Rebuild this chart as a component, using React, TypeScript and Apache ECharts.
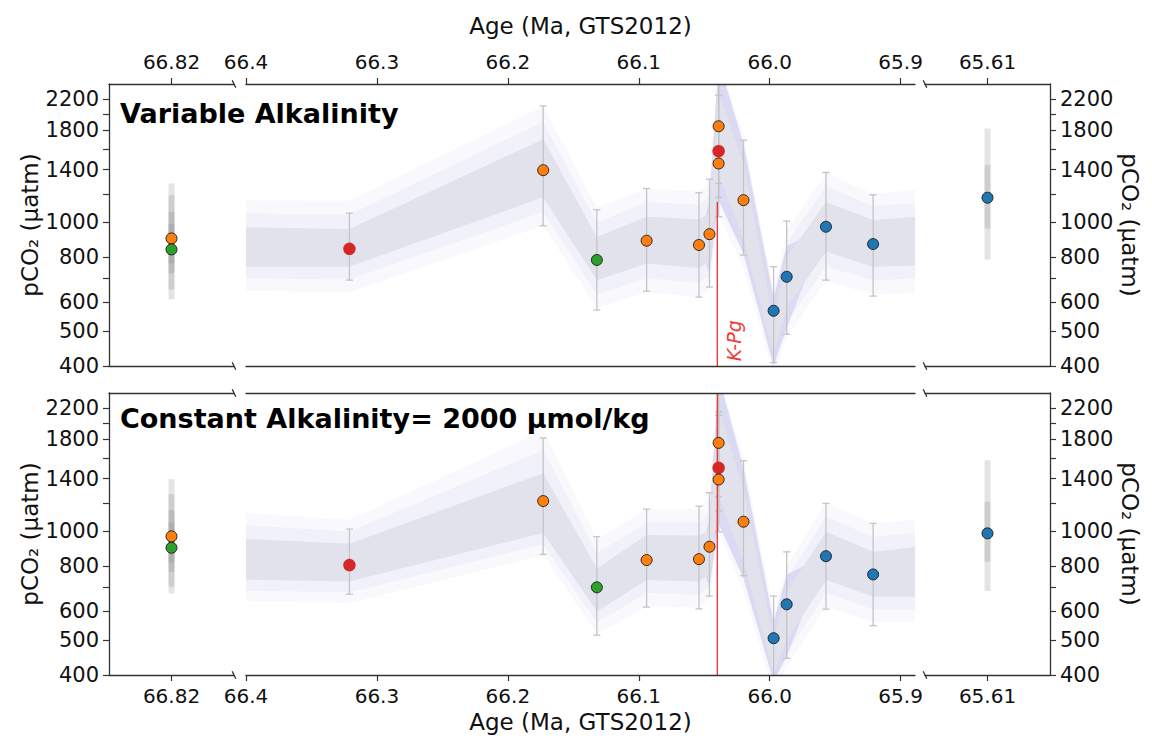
import React, { useEffect, useRef } from "react";
import * as echarts from "echarts";

// ---------------- data ----------------
const siteColors: Record<string, string> = {
  orange: "#ff7f0e",
  green: "#2ca02c",
  blue: "#1f77b4",
  red: "#d62728",
};

const yTickValues = [400, 500, 600, 700, 800, 1000, 1200, 1400, 1600, 1800, 2000, 2200];
const yLabelValues = [400, 500, 600, 800, 1000, 1400, 1800, 2200];
const yAxisMin = 400;
const yAxisMax = 2420;

const midTickValues = [66.4, 66.3, 66.2, 66.1, 66.0, 65.9];
const midRange = [65.889, 66.4];
const leftAge = 66.82;
const leftRange = [66.72, 66.92];
const rightAge = 65.61;
const rightRange = [65.51, 65.71];
const kpgAge = 66.04;
const kpgLabelAt = 470;

const panelTitles = ["Variable Alkalinity", "Constant Alkalinity= 2000 µmol/kg"];
const xAxisTitle = "Age (Ma, GTS2012)";
const yAxisTitle = "pCO₂ (µatm)";

// middle column samples
const midAges = [66.321, 66.173, 66.132, 66.094, 66.054, 66.046, 66.039, 66.039, 66.039, 66.02, 65.997, 65.987, 65.957, 65.921];
const midSites = ["red", "orange", "green", "orange", "orange", "orange", "orange", "red", "orange", "orange", "blue", "blue", "blue", "blue"];

const varValues = [845, 1396, 787, 890, 866, 928, 1848, 1576, 1457, 1153, 569, 707, 973, 871];
const varLow = [692, 979, 572, 645, 621, 662, 1283, 1173, 1037, 812, 409, 490, 692, 625];
const varHigh = [1061, 2104, 1084, 1242, 1208, 1318, 2700, 2252, 2500, 1691, 754, 1009, 1376, 1193];

const conValues = [807, 1214, 700, 833, 838, 907, 1760, 1501, 1393, 1064, 506, 628, 854, 760];
const conLow = [670, 864, 516, 617, 610, 662, 1248, 1139, 998, 754, 380, 445, 609, 548];
const conHigh = [1015, 1816, 967, 1153, 1175, 1280, 2500, 2146, 2100, 1570, 662, 878, 1196, 1053];

// side columns
const leftSites = ["orange", "green"];
const varLeftValues = [903, 842];
const varLeft2Low = [652, 612];
const varLeft2High = [1283, 1191];
const varLeft1Low = [770, 722];
const varLeft1High = [1070, 990];
const conLeftValues = [969, 901];
const conLeft2Low = [703, 673];
const conLeft2High = [1396, 1269];
const conLeft1Low = [820, 773];
const conLeft1High = [1146, 1060];

const rightSites = ["blue"];
const varRightValues = [1171];
const varRight2Low = [790];
const varRight2High = [1821];
const varRight1Low = [962];
const varRight1High = [1442];
const conRightValues = [988];
const conRight2Low = [684];
const conRight2High = [1576];
const conRight1Low = [824];
const conRight1High = [1208];

// ensemble envelopes (middle column)
const bandAges = [66.4, 66.321, 66.173, 66.132, 66.094, 66.054, 66.046, 66.039, 66.02, 65.997, 65.987, 65.957, 65.921, 65.889];

const varFaintLow = [647, 640, 980, 580, 640, 620, 650, 1050, 750, 380, 480, 690, 630, 640];
const varFaintHigh = [1150, 1148, 2100, 1100, 1240, 1220, 1300, 2800, 1750, 640, 950, 1370, 1200, 1230];
const varOuterLow = [700, 695, 1070, 630, 700, 680, 710, 1200, 820, 400, 530, 755, 690, 700];
const varOuterHigh = [1060, 1050, 1900, 1000, 1140, 1120, 1180, 2600, 1600, 590, 880, 1260, 1110, 1130];
const varCoreLow = [860, 850, 1410, 795, 890, 870, 720, 1150, 820, 400, 510, 970, 875, 885];
const varCoreHigh = [860, 850, 1410, 795, 890, 870, 1150, 2800, 1650, 620, 860, 970, 875, 885];
const varInnerLow = [754, 754, 1174, 692, 770, 746, 780, 1350, 900, 433, 580, 829, 754, 760];
const varInnerHigh = [969, 959, 1702, 912, 1037, 1020, 1060, 2300, 1450, 536, 800, 1139, 1015, 1037];

const conFaintLow = [640, 633, 860, 520, 620, 615, 650, 1000, 680, 360, 420, 620, 560, 560];
const conFaintHigh = [1124, 1077, 1900, 950, 1150, 1150, 1250, 2700, 1600, 600, 800, 1200, 1050, 1080];
const conOuterLow = [685, 678, 920, 560, 675, 668, 700, 1120, 750, 380, 460, 675, 608, 608];
const conOuterHigh = [1040, 1000, 1680, 870, 1060, 1060, 1120, 2500, 1450, 550, 740, 1100, 965, 990];
const conCoreLow = [840, 820, 1200, 690, 850, 845, 700, 1050, 740, 385, 450, 860, 765, 780];
const conCoreHigh = [840, 820, 1200, 690, 850, 845, 1080, 2700, 1500, 560, 760, 860, 765, 780];
const conInnerLow = [735, 727, 990, 600, 733, 726, 760, 1250, 830, 405, 500, 733, 659, 659];
const conInnerHigh = [953, 924, 1451, 790, 977, 974, 1010, 2200, 1300, 500, 680, 998, 878, 906];

const kpgTopValues = [1140, 2420];

// ---------------- styling / layout ----------------
const FONT = "DejaVu Sans";
const AXIS_COLOR = "#333333";
const ERR_COLOR = "#c4c4c4";
const SIDE_BAR_COLOR = "rgba(120,120,120,0.2)";
const KPG_COLOR = "#f03a3a";
const FAINT_COLOR = "#f8f8fd";
const OUTER_COLOR = "#f1f1fa";
const CORE_COLOR = "#dadaf3";
const INNER_COLOR = "#e2e2ed";

const ROW_TOPS = [84, 393];
const ROW_HEIGHT = 282;
const COL_LEFTS = [109, 246, 925];
const COL_WIDTHS = [125, 669, 125];

const L = (v: number) => Math.log10(v);
const Y_MIN = L(yAxisMin);
const Y_MAX = L(yAxisMax);

function intersectY(a: number[], b: number[], y: number) {
  const t = (y - a[1]) / (b[1] - a[1]);
  return [a[0] + t * (b[0] - a[0]), y];
}

function clipY(pts: number[][], bound: number, keepAbove: boolean) {
  const inside = (p: number[]) => (keepAbove ? p[1] >= bound : p[1] <= bound);
  const out: number[][] = [];
  for (let i = 0; i < pts.length; i++) {
    const cur = pts[i];
    const prev = pts[(i + pts.length - 1) % pts.length];
    const ci = inside(cur);
    const pi = inside(prev);
    if (ci) {
      if (!pi) out.push(intersectY(prev, cur, bound));
      out.push(cur);
    } else if (pi) {
      out.push(intersectY(prev, cur, bound));
    }
  }
  return out;
}

function bandSeries(gi: number, lo: number[], hi: number[], color: string, z: number) {
  return {
    type: "custom",
    xAxisIndex: gi * 2,
    yAxisIndex: gi,
    z,
    silent: true,
    data: [[bandAges[0], L(lo[0])]],
    encode: { x: 0, y: 1 },
    renderItem: (params: any, api: any) => {
      if (params.dataIndex !== 0) return null;
      const poly: number[][] = [];
      bandAges.forEach((a, i) => poly.push([a, L(hi[i])]));
      for (let i = bandAges.length - 1; i >= 0; i--) poly.push([bandAges[i], L(lo[i])]);
      const clipped = clipY(clipY(poly, Y_MIN, true), Y_MAX, false);
      if (clipped.length < 3) return null;
      return {
        type: "polygon",
        shape: { points: clipped.map((p) => api.coord(p)) },
        style: { fill: color, stroke: null },
      };
    },
  };
}

function errorSeries(gi: number, ages: number[], lo: number[], hi: number[]) {
  return {
    type: "custom",
    xAxisIndex: gi * 2,
    yAxisIndex: gi,
    z: 4,
    silent: true,
    data: ages.map((a, i) => [a, L(lo[i]), L(hi[i])]),
    encode: { x: 0, y: [1, 2] },
    renderItem: (params: any, api: any) => {
      const x = api.value(0);
      const lo = api.value(1);
      const hi = api.value(2);
      const a = api.coord([x, Math.max(lo, Y_MIN)]);
      const b = api.coord([x, Math.min(hi, Y_MAX)]);
      const st = { stroke: ERR_COLOR, lineWidth: 1.3 };
      const children: any[] = [
        { type: "line", shape: { x1: a[0], y1: a[1], x2: b[0], y2: b[1] }, style: st },
      ];
      if (lo >= Y_MIN)
        children.push({ type: "line", shape: { x1: a[0] - 3.5, y1: a[1], x2: a[0] + 3.5, y2: a[1] }, style: st });
      if (hi <= Y_MAX)
        children.push({ type: "line", shape: { x1: b[0] - 3.5, y1: b[1], x2: b[0] + 3.5, y2: b[1] }, style: st });
      return { type: "group", children };
    },
  };
}

function sideBarSeries(gi: number, age: number, lows: number[][], highs: number[][]) {
  const data: number[][] = [];
  lows.forEach((lo, k) => lo.forEach((v, i) => data.push([age, L(v), L(highs[k][i])])));
  return {
    type: "custom",
    xAxisIndex: gi * 2,
    yAxisIndex: gi,
    z: 4,
    silent: true,
    data,
    encode: { x: 0, y: [1, 2] },
    renderItem: (params: any, api: any) => {
      const x = api.value(0);
      const a = api.coord([x, api.value(1)]);
      const b = api.coord([x, api.value(2)]);
      return {
        type: "line",
        shape: { x1: a[0], y1: a[1], x2: b[0], y2: b[1] },
        style: { stroke: SIDE_BAR_COLOR, lineWidth: 6, lineCap: "butt" },
      };
    },
  };
}

function scatterSeries(gi: number, ages: number[], values: number[], sites: string[]) {
  return {
    type: "scatter",
    xAxisIndex: gi * 2,
    yAxisIndex: gi,
    z: 6,
    silent: true,
    data: ages.map((a, i) => {
      const red = sites[i] === "red";
      return {
        value: [a, L(values[i])],
        symbolSize: red ? 12.5 : 11,
        itemStyle: {
          color: siteColors[sites[i]],
          borderColor: red ? "rgba(0,0,0,0)" : "#1a1a1a",
          borderWidth: red ? 0 : 0.9,
          opacity: 1,
        },
      };
    }),
  };
}

function kpgSeries(gi: number, top: number, withLabel: boolean) {
  return {
    type: "custom",
    xAxisIndex: gi * 2,
    yAxisIndex: gi,
    z: 5,
    silent: true,
    data: [[kpgAge, Y_MIN, Math.min(L(top), Y_MAX)]],
    encode: { x: 0, y: [1, 2] },
    renderItem: (params: any, api: any) => {
      const x = api.value(0);
      const a = api.coord([x, api.value(1)]);
      const b = api.coord([x, api.value(2)]);
      const children: any[] = [
        { type: "line", shape: { x1: a[0], y1: a[1], x2: b[0], y2: b[1] }, style: { stroke: KPG_COLOR, lineWidth: 1.4 } },
      ];
      if (withLabel) {
        const p = api.coord([x, L(kpgLabelAt)]);
        children.push({
          type: "text",
          x: p[0] + 17,
          y: p[1],
          rotation: Math.PI / 2,
          style: {
            text: "K-Pg",
            fill: KPG_COLOR,
            fontSize: 19,
            fontFamily: FONT,
            fontStyle: "italic",
            align: "center",
            verticalAlign: "middle",
          },
        });
      }
      return { type: "group", children };
    },
  };
}

function buildOption() {
  const grids: any[] = [];
  const xAxes: any[] = [];
  const yAxes: any[] = [];
  const series: any[] = [];
  const ranges = [leftRange, midRange, rightRange];
  const xTicks = [[leftAge], midTickValues, [rightAge]];
  const lineStyle = { color: AXIS_COLOR, width: 1.3 };

  ROW_TOPS.forEach((top, ri) => {
    COL_LEFTS.forEach((left, ci) => {
      const gi = ri * 3 + ci;
      grids.push({ left, top, width: COL_WIDTHS[ci], height: ROW_HEIGHT, containLabel: false, show: false });
      const primaryPos = ri === 0 ? "top" : "bottom";
      const secondaryPos = ri === 0 ? "bottom" : "top";
      xAxes.push({
        type: "value",
        gridIndex: gi,
        position: primaryPos,
        min: ranges[ci][0],
        max: ranges[ci][1],
        inverse: true,
        z: 10,
        axisLine: { show: true, onZero: false, lineStyle },
        axisTick: { show: true, length: 6, inside: false, customValues: xTicks[ci], lineStyle: { color: AXIS_COLOR, width: 1.2 } },
        axisLabel: {
          show: true,
          customValues: xTicks[ci],
          formatter: (v: number) => (ci === 1 ? v.toFixed(1) : v.toFixed(2)),
          fontSize: 20,
          fontFamily: FONT,
          color: "#111",
          margin: ri === 0 ? 12 : 11,
        },
        splitLine: { show: false },
        name: ci === 1 ? xAxisTitle : "",
        nameLocation: "middle",
        nameGap: ri === 0 ? 47 : 35,
        nameMoveOverlap: false,
        nameTextStyle: { fontSize: 23, fontFamily: FONT, color: "#111" },
      });
      xAxes.push({
        type: "value",
        gridIndex: gi,
        position: secondaryPos,
        min: ranges[ci][0],
        max: ranges[ci][1],
        inverse: true,
        z: 10,
        axisLine: { show: true, onZero: false, lineStyle },
        axisTick: { show: false },
        axisLabel: { show: false },
        splitLine: { show: false },
      });
      yAxes.push({
        type: "value",
        gridIndex: gi,
        show: ci !== 1,
        position: ci === 2 ? "right" : "left",
        min: Y_MIN,
        max: Y_MAX,
        z: 10,
        axisLine: { show: true, onZero: false, lineStyle },
        axisTick: { show: true, length: 6, inside: false, customValues: yTickValues.map(L), lineStyle: { color: AXIS_COLOR, width: 1.2 } },
        axisLabel: {
          show: true,
          customValues: yLabelValues.map(L),
          formatter: (v: number) => String(Math.round(Math.pow(10, v))),
          fontSize: 21,
          fontFamily: FONT,
          color: "#111",
          margin: 10,
        },
        splitLine: { show: false },
        name: yAxisTitle,
        nameLocation: "middle",
        nameGap: 68,
        nameRotate: ci === 2 ? -90 : 90,
        nameMoveOverlap: false,
        nameTextStyle: { fontSize: 23, fontFamily: FONT, color: "#111" },
      });
    });
  });

  const panels = [
    {
      values: varValues, low: varLow, high: varHigh,
      faint: [varFaintLow, varFaintHigh], outer: [varOuterLow, varOuterHigh], core: [varCoreLow, varCoreHigh], inner: [varInnerLow, varInnerHigh],
      leftValues: varLeftValues, left2: [varLeft2Low, varLeft2High], left1: [varLeft1Low, varLeft1High],
      rightValues: varRightValues, right2: [varRight2Low, varRight2High], right1: [varRight1Low, varRight1High],
    },
    {
      values: conValues, low: conLow, high: conHigh,
      faint: [conFaintLow, conFaintHigh], outer: [conOuterLow, conOuterHigh], core: [conCoreLow, conCoreHigh], inner: [conInnerLow, conInnerHigh],
      leftValues: conLeftValues, left2: [conLeft2Low, conLeft2High], left1: [conLeft1Low, conLeft1High],
      rightValues: conRightValues, right2: [conRight2Low, conRight2High], right1: [conRight1Low, conRight1High],
    },
  ];

  panels.forEach((p, ri) => {
    const gL = ri * 3;
    const gM = ri * 3 + 1;
    const gR = ri * 3 + 2;
    series.push(sideBarSeries(gL, leftAge, [p.left2[0], p.left1[0]], [p.left2[1], p.left1[1]]));
    series.push(scatterSeries(gL, leftSites.map(() => leftAge), p.leftValues, leftSites));
    series.push(bandSeries(gM, p.faint[0], p.faint[1], FAINT_COLOR, 1));
    series.push(bandSeries(gM, p.outer[0], p.outer[1], OUTER_COLOR, 1));
    series.push(bandSeries(gM, p.core[0], p.core[1], CORE_COLOR, 2));
    series.push(bandSeries(gM, p.inner[0], p.inner[1], INNER_COLOR, 3));
    series.push(errorSeries(gM, midAges, p.low, p.high));
    series.push(kpgSeries(gM, kpgTopValues[ri], ri === 0));
    series.push(scatterSeries(gM, midAges, p.values, midSites));
    series.push(sideBarSeries(gR, rightAge, [p.right2[0], p.right1[0]], [p.right2[1], p.right1[1]]));
    series.push(scatterSeries(gR, rightSites.map(() => rightAge), p.rightValues, rightSites));
  });

  const graphics: any[] = [];
  ROW_TOPS.forEach((top) => {
    [top, top + ROW_HEIGHT].forEach((y) => {
      [COL_LEFTS[0] + COL_WIDTHS[0], COL_LEFTS[2]].forEach((x) => {
        graphics.push({
          type: "line",
          z: 20,
          silent: true,
          shape: { x1: x - 1.8, y1: y - 3.8, x2: x + 1.8, y2: y + 3.8 },
          style: { stroke: AXIS_COLOR, lineWidth: 1.3 },
        });
      });
    });
  });
  const titleYs = [113, 418];
  panelTitles.forEach((t, i) => {
    graphics.push({
      type: "text",
      z: 20,
      silent: true,
      x: 120,
      y: titleYs[i],
      style: {
        text: t,
        fill: "#000",
        font: `bold 27px "${FONT}"`,
        textAlign: "left",
        textVerticalAlign: "middle",
      },
    });
  });

  return {
    animation: false,
    backgroundColor: "#ffffff",
    textStyle: { fontFamily: FONT },
    grid: grids,
    xAxis: xAxes,
    yAxis: yAxes,
    series,
    graphic: graphics,
  };
}

export default function App() {
  const ref = useRef<HTMLDivElement>(null);
  useEffect(() => {
    if (!ref.current) return;
    const chart = echarts.init(ref.current, null, { renderer: "svg" });
    chart.setOption(buildOption() as any);
    return () => chart.dispose();
  }, []);
  return (
    <div
      ref={ref}
      style={{ position: "fixed", left: 0, top: 0, width: 1152, height: 742, background: "#fff" }}
    />
  );
}
